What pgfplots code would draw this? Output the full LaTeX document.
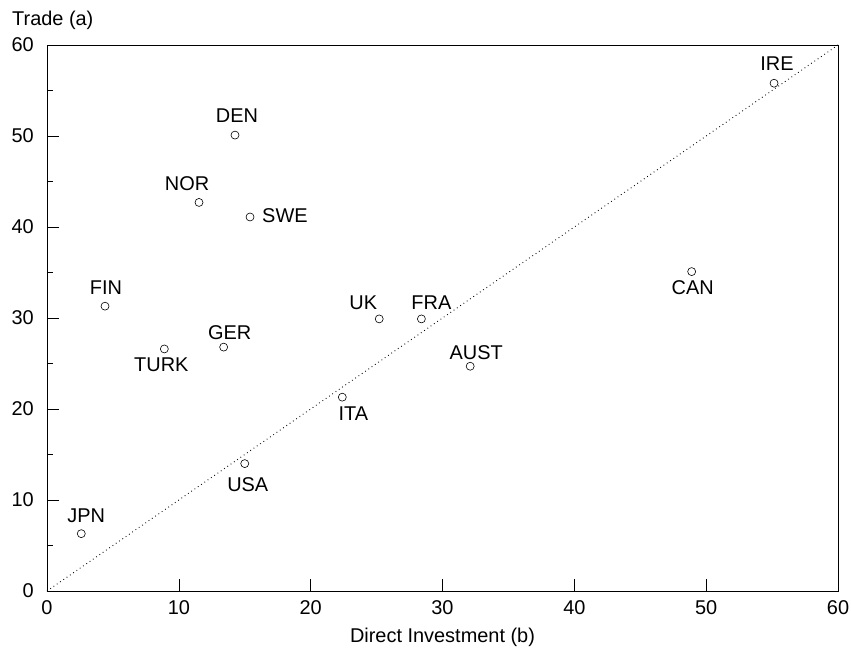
\documentclass[border=0pt]{standalone}
\usepackage{pgfplots}
\pgfplotsset{compat=1.18}
\usepackage{fontspec}
\setmainfont{Liberation Sans}
\begin{document}
\fontsize{20}{24}\selectfont
\begin{tikzpicture}
\path[use as bounding box] (-47bp,-62bp) rectangle (804bp,591bp);
\begin{axis}[
  at={(0,0)}, anchor=south west,
  scale only axis, width=791bp, height=546bp,
  xmin=0, xmax=60, ymin=0, ymax=60,
  xtick={0,10,...,60}, ytick={0,10,...,60},
  minor ytick={5,15,...,55},
  xtick pos=bottom, ytick pos=left,
  tick align=inside,
  major tick length=12bp, minor tick length=6bp,
  every tick/.style={black, line width=0.6pt},
  axis line style={line width=0.7pt},
  /pgf/number format/assume math mode=true,
  xticklabel style={inner sep=0pt, yshift=-9bp},
  yticklabel style={inner sep=0pt, xshift=-13bp},
  xlabel={Direct Investment (b)},
  xlabel style={at={(axis description cs:0.5,0)}, anchor=center, inner sep=0pt, yshift=-46bp},
  clip=false,
]
\addplot[black, line width=0.9pt, dash pattern=on 0.8pt off 3.2pt] coordinates {(0,0) (60,60)};
\addplot[only marks, mark=o, mark size=4bp, mark options={line width=0.6pt, black}] coordinates {
 (55.15,55.8) (14.26,50.1) (11.53,42.7) (15.4,41.1) (4.4,31.3) (25.2,29.9) (28.4,29.9)
 (48.9,35.1) (13.4,26.8) (8.9,26.6) (32.1,24.7) (22.4,21.3) (15.0,14.0) (2.6,6.3)
};
\node[xshift=3bp, yshift=20bp] at (axis cs:55.15,55.8) {IRE};
\node[xshift=2bp, yshift=19bp] at (axis cs:14.26,50.1) {DEN};
\node[xshift=-12bp, yshift=19bp] at (axis cs:11.53,42.7) {NOR};
\node[anchor=west, inner sep=0pt, xshift=12bp, yshift=1bp] at (axis cs:15.4,41.1) {SWE};
\node[xshift=1bp, yshift=19bp] at (axis cs:4.4,31.3) {FIN};
\node[xshift=-16bp, yshift=16bp] at (axis cs:25.2,29.9) {UK};
\node[xshift=10bp, yshift=16bp] at (axis cs:28.4,29.9) {FRA};
\node[xshift=1bp, yshift=-16bp] at (axis cs:48.9,35.1) {CAN};
\node[xshift=6bp, yshift=14bp] at (axis cs:13.4,26.8) {GER};
\node[xshift=-3bp, yshift=-16bp] at (axis cs:8.9,26.6) {TURK};
\node[xshift=6bp, yshift=14bp] at (axis cs:32.1,24.7) {AUST};
\node[xshift=11bp, yshift=-16bp] at (axis cs:22.4,21.3) {ITA};
\node[xshift=3bp, yshift=-21bp] at (axis cs:15.0,14.0) {USA};
\node[xshift=5bp, yshift=18bp] at (axis cs:2.6,6.3) {JPN};
\node[anchor=west, inner sep=0pt, xshift=-35bp, yshift=25bp] at (rel axis cs:0,1) {Trade (a)};
\end{axis}
\end{tikzpicture}
\end{document}
